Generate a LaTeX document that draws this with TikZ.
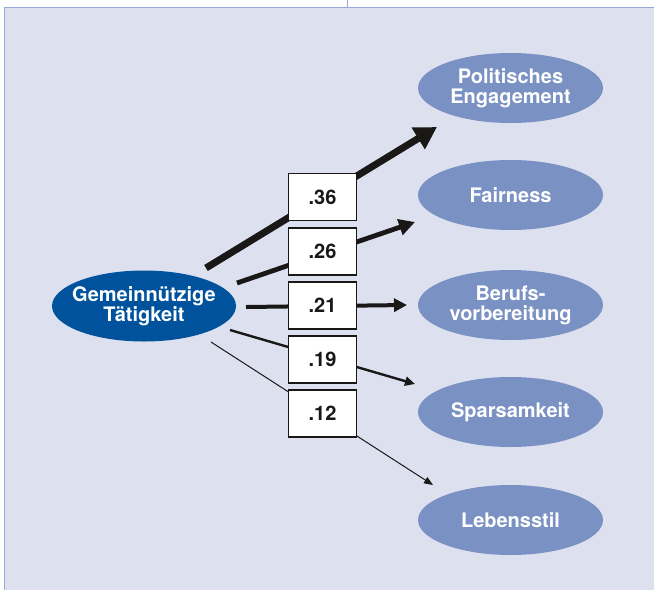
\documentclass[tikz,border=0pt]{standalone}
\usepackage{fontspec}
\setmainfont{TeX Gyre Heros}
\usetikzlibrary{shapes.geometric,arrows.meta}
\definecolor{panelbg}{HTML}{DDE0EF}
\definecolor{panelline}{HTML}{9AA6D6}
\definecolor{darkell}{HTML}{00529C}
\definecolor{lightell}{HTML}{7A91C4}
\definecolor{arr}{HTML}{1A1717}
\tikzset{
  ell/.style={ellipse, minimum width=185pt, minimum height=70pt, inner ysep=0pt, inner xsep=-25pt,
    fill=lightell, text=white, align=center,
    font=\fontsize{20pt}{20pt}\selectfont\bfseries},
  mainell/.style={ell, fill=darkell, minimum width=184pt, minimum height=71pt},
  valbox/.style={draw=arr, line width=1.3pt, fill=white, minimum width=68pt,
    minimum height=47pt, inner sep=0pt, font=\fontsize{20pt}{20pt}\selectfont\bfseries, text=arr},
  path36/.style={draw=arr, line width=7pt, -{Triangle[length=22pt,width=24pt]}},
  path26/.style={draw=arr, line width=4.8pt, -{Triangle[length=16pt,width=16pt]}},
  path21/.style={draw=arr, line width=4pt, -{Triangle[length=13pt,width=13pt]}},
  path19/.style={draw=arr, line width=2.4pt, -{Triangle[length=10pt,width=9pt]}},
  path12/.style={draw=arr, line width=1pt, -{Triangle[length=9pt,width=7pt]}},
}
\begin{document}
\begin{tikzpicture}[x=1pt,y=-1pt]
\useasboundingbox (0,0) rectangle (654,590);
\fill[panelbg] (4.5,7.5) rectangle (654,590);
\draw[panelline, line width=1pt] (4.5,590) -- (4.5,7.5) -- (654,7.5);
\draw[panelline, line width=0.8pt] (347,0) -- (347,7.5);

\node[mainell] (src) at (144,306) {Gemeinnützige\\Tätigkeit};
\node[ell] (pe) at (510.5,88) {Politisches\\Engagement};
\node[ell] (fa) at (510.5,195) {Fairness};
\node[ell] (bv) at (510.5,305) {Berufs-\\vorbereitung};
\node[ell] (sp) at (510.5,412) {Sparsamkeit};
\node[ell] (ls) at (510.5,520) {Lebensstil};

\coordinate (s1) at (206,268);
\coordinate (t1) at (437,127);
\coordinate (s2) at (237,283);
\coordinate (t2) at (415,222);
\coordinate (s3) at (246,307);
\coordinate (t3) at (407,305);
\coordinate (s4) at (230,330);
\coordinate (t4) at (415,384);
\coordinate (s5) at (211,342);
\coordinate (t5) at (433,485);

\path[path36] (s1) -- (t1);
\path[path26] (s2) -- (t2);
\path[path21] (s3) -- (t3);
\path[path19] (s4) -- (t4);
\path[path12] (s5) -- (t5);

\node[valbox] (b1) at (322.5,197) {.36};
\node[valbox] (b2) at (322.5,251.5) {.26};
\node[valbox] (b3) at (322.5,305.5) {.21};
\node[valbox] (b4) at (322.5,359.5) {.19};
\node[valbox] (b5) at (322.5,413.5) {.12};
\end{tikzpicture}
\end{document}
